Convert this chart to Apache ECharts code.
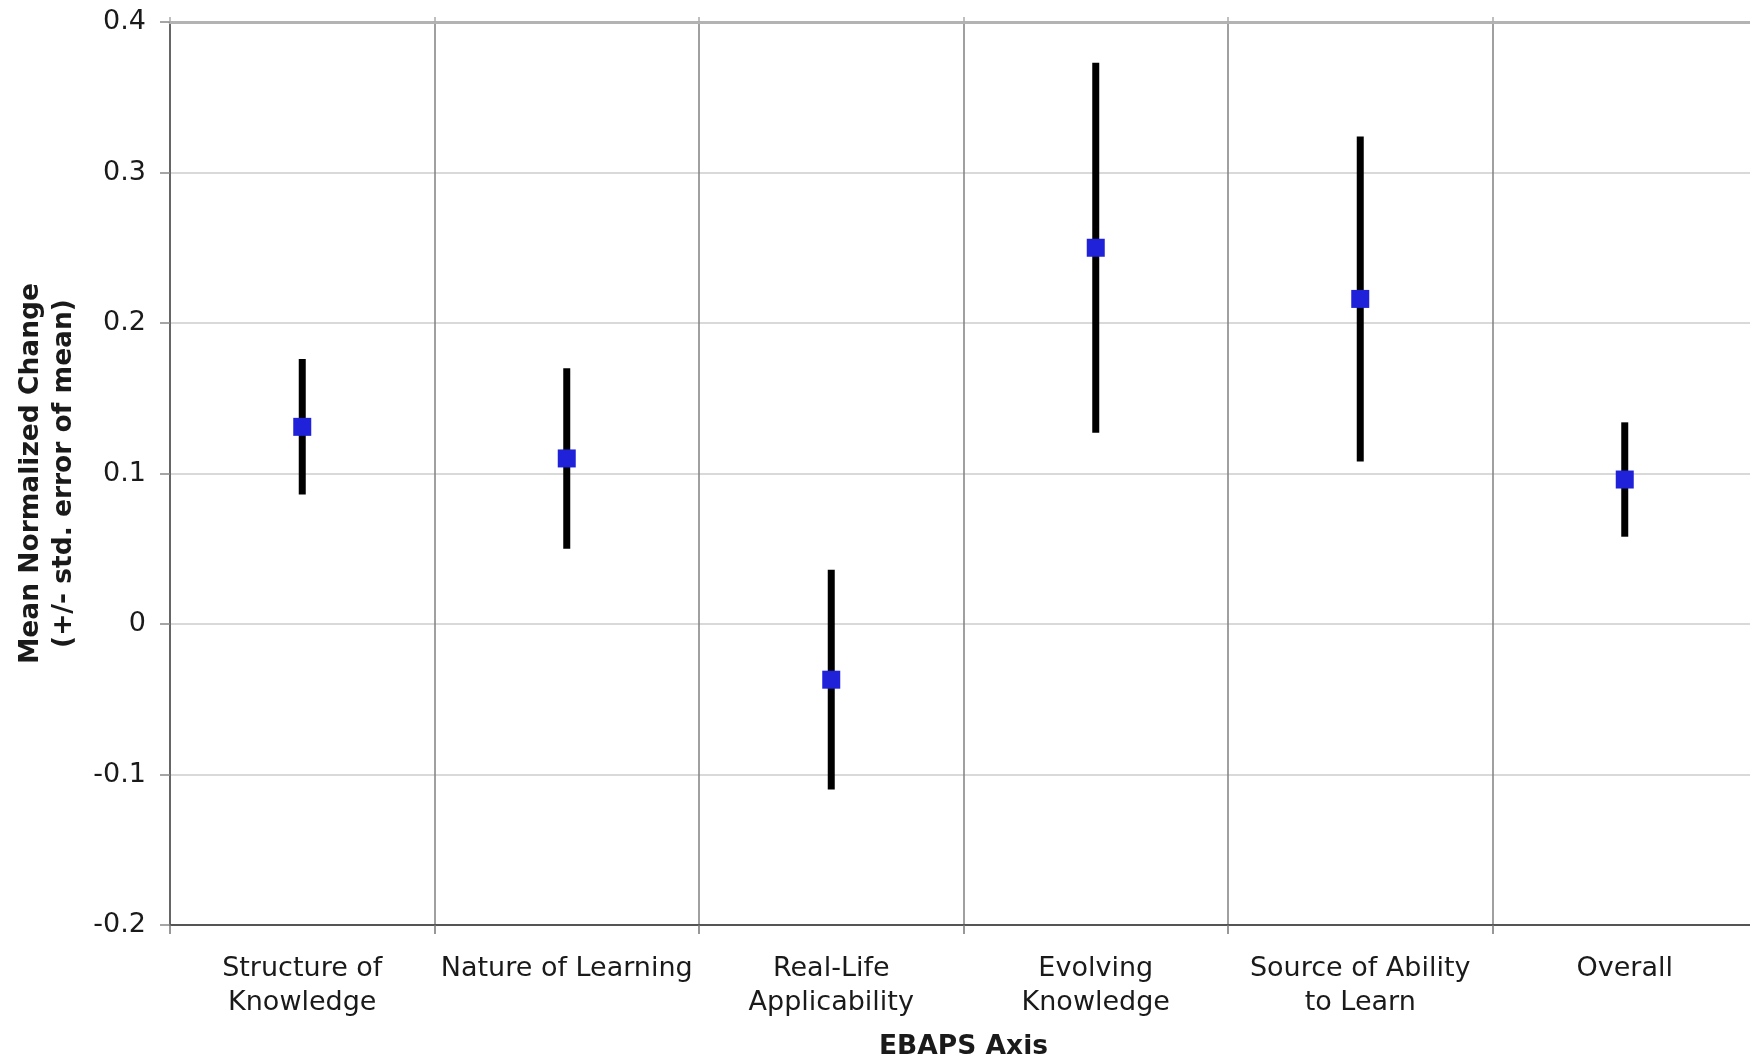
<!DOCTYPE html>
<html>
<head>
<meta charset="utf-8">
<title>EBAPS Axis – Mean Normalized Change</title>
<script src="https://cdn.jsdelivr.net/npm/echarts@6/dist/echarts.min.js"></script>
<style>
  html, body { margin: 0; padding: 0; background: #ffffff; }
  #chart { width: 1750px; height: 1058px; }
</style>
</head>
<body>
<div id="chart"></div>
<script>
// EBAPS axes (x categories)
const categories = [
  'Structure of\nKnowledge',
  'Nature of Learning',
  'Real-Life\nApplicability',
  'Evolving\nKnowledge',
  'Source of Ability\nto Learn',
  'Overall'
];

// Mean normalized change per axis
const meanChange = [0.131, 0.110, -0.037, 0.250, 0.216, 0.096];

// Standard error of the mean per axis (bars span mean ± stdErr)
const stdErr = [0.045, 0.060, 0.073, 0.123, 0.108, 0.038];

// Value axis ticks
const yMin = -0.2;
const yMax = 0.4;
const yStep = 0.1;

const FONT = '"DejaVu Sans", Verdana, sans-serif';
const TEXT = '#1a1a1a';

const errorData = meanChange.map((m, i) => [i, m - stdErr[i], m + stdErr[i]]);
const pointData = meanChange.map((m, i) => [i, m]);

const chart = echarts.init(document.getElementById('chart'), null, { renderer: 'canvas' });

chart.setOption({
  backgroundColor: '#ffffff',
  animation: false,
  grid: {
    left: 170,
    top: 22,
    width: 1587,
    bottom: 133,
    containLabel: false,
    outerBoundsMode: 'none'
  },
  xAxis: [
    {
      type: 'category',
      data: categories,
      boundaryGap: true,
      position: 'bottom',
      name: 'EBAPS Axis',
      nameLocation: 'middle',
      nameGap: 109,
      nameMoveOverlap: false,
      nameTextStyle: { fontFamily: FONT, fontSize: 26.5, fontWeight: 'bold', color: TEXT },
      axisLine: { show: true, onZero: false, lineStyle: { color: '#555555', width: 2 } },
      axisTick: { show: true, alignWithLabel: false, inside: false, length: 9, lineStyle: { color: '#777777', width: 1.5 } },
      axisLabel: {
        interval: 0,
        margin: 27,
        fontFamily: FONT,
        fontSize: 27,
        lineHeight: 34,
        color: TEXT,
        align: 'center'
      },
      splitLine: { show: true, interval: 0, lineStyle: { color: '#808080', width: 1.5 } }
    },
    {
      type: 'category',
      data: categories,
      boundaryGap: true,
      position: 'top',
      axisLine: { show: true, onZero: false, lineStyle: { color: '#b3b3b3', width: 3 } },
      axisTick: { show: true, length: 5, lineStyle: { color: '#aaaaaa', width: 1.5 } },
      axisLabel: { show: false },
      splitLine: { show: false }
    }
  ],
  yAxis: {
    type: 'value',
    min: yMin,
    max: yMax,
    interval: yStep,
    name: 'Mean Normalized Change\n(+/- std. error of mean)',
    nameLocation: 'middle',
    nameGap: 89,
    nameRotate: 90,
    nameMoveOverlap: false,
    nameTextStyle: { fontFamily: FONT, fontSize: 26.5, fontWeight: 'bold', color: TEXT, lineHeight: 33 },
    axisLine: { show: true, lineStyle: { color: '#666666', width: 2 } },
    axisTick: { show: true, inside: false, length: 10, lineStyle: { color: '#888888', width: 1.5 } },
    axisLabel: {
      margin: 24,
      fontFamily: FONT,
      fontSize: 27,
      color: TEXT,
      formatter: v => String(Math.round(v * 10) / 10)
    },
    splitLine: { show: true, lineStyle: { color: '#d9d9d9', width: 2 } }
  },
  series: [
    {
      // vertical error bars: mean ± standard error
      type: 'custom',
      xAxisIndex: 0,
      data: errorData,
      encode: { x: 0, y: [1, 2] },
      renderItem: function (params, api) {
        const x = api.value(0);
        const lo = api.coord([x, api.value(1)]);
        const hi = api.coord([x, api.value(2)]);
        return {
          type: 'line',
          shape: { x1: lo[0], y1: lo[1], x2: hi[0], y2: hi[1] },
          style: { stroke: '#000000', lineWidth: 7, lineCap: 'butt' }
        };
      },
      z: 2
    },
    {
      // mean markers
      type: 'scatter',
      xAxisIndex: 0,
      data: pointData,
      symbol: 'rect',
      symbolSize: 18,
      itemStyle: { color: '#1f22d8', opacity: 1 },
      z: 3
    }
  ]
});
</script>
</body>
</html>
